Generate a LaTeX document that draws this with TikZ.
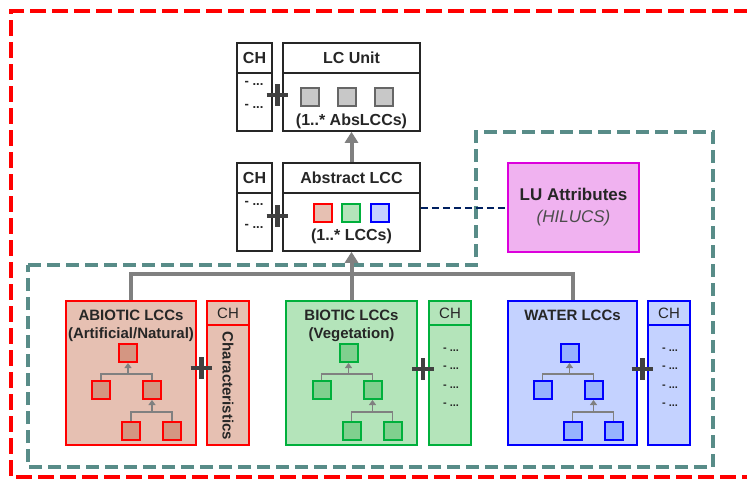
\documentclass[tikz,border=0pt]{standalone}
\usepackage{fontspec}
\setmainfont{Liberation Sans}
\usetikzlibrary{arrows.meta,shapes.misc}
\definecolor{xtext}{RGB}{38,38,38}
\definecolor{xgray}{RGB}{128,128,128}
\definecolor{xplus}{RGB}{64,64,64}
\definecolor{xteal}{RGB}{88,140,136}
\definecolor{xnavy}{RGB}{0,32,96}
\definecolor{abioline}{RGB}{255,0,0}
\definecolor{abiofill}{RGB}{230,192,178}
\definecolor{abiosq}{RGB}{212,150,130}
\definecolor{bioline}{RGB}{0,176,60}
\definecolor{biofill}{RGB}{180,228,186}
\definecolor{biosq}{RGB}{128,208,142}
\definecolor{watline}{RGB}{0,0,255}
\definecolor{watfill}{RGB}{196,210,255}
\definecolor{watsq}{RGB}{150,178,255}
\definecolor{luline}{RGB}{220,0,220}
\definecolor{lufill}{RGB}{240,178,240}
\definecolor{greysq}{RGB}{200,200,200}

\begin{document}
\begin{tikzpicture}[x=1pt,y=-1pt,text=xtext]
\tikzset{hdr/.style={draw=black!85,line width=1.6pt,fill=white,inner sep=0pt,minimum height=30pt,font=\bfseries\fontsize{16}{18}\selectfont}}
\tikzset{bdy/.style={draw=black!85,line width=1.6pt,fill=white,inner sep=0pt,minimum height=58pt}}
\tikzset{lcc/.style={line width=2pt,inner sep=0pt,minimum height=144pt}}
\tikzset{chh/.style={line width=2pt,inner sep=0pt,minimum width=42pt,minimum height=24pt,font=\fontsize{15}{17}\selectfont}}
\tikzset{chb/.style={line width=2pt,inner sep=0pt,minimum width=42pt,minimum height=120pt}}
\tikzset{sq/.style={line width=2pt,inner sep=0pt,minimum size=18pt}}
\tikzset{ttl/.style={inner sep=0pt,font=\bfseries\fontsize{15}{17}\selectfont}}
\tikzset{dots/.style={inner sep=0pt,font=\bfseries\fontsize{13}{15}\selectfont}}
\tikzset{sdots/.style={inner sep=0pt,font=\bfseries\fontsize{11}{13}\selectfont}}
\tikzset{plus/.style={cross out,draw=xplus,line width=4.5pt,minimum size=11pt,inner sep=0pt,rotate=45}}
\tikzset{conn/.style={draw=xgray,line width=4pt}}
\tikzset{tline/.style={draw=xgray,line width=1.6pt}}
\tikzset{tarrow/.style={draw=xgray,line width=1.6pt,-{Triangle[length=5pt,width=7pt]}}}
\useasboundingbox (0,0) rectangle (747,479);
\clip (0,0) rectangle (747,479);
\draw[abioline,line width=4pt,dash pattern=on 16pt off 6pt] (750,11) -- (11,11) -- (11,477) -- (750,477);
\draw[xteal,line width=4pt,dash pattern=on 13pt off 6pt] (28,265) -- (476,265) -- (476,132) -- (713,132) -- (713,467) -- (28,467) -- cycle;
\node[hdr,minimum width=35pt] at (254.5,58) (chU) {CH};
\node[bdy,minimum width=35pt] at (254.5,102) (chUb) {};
\node[dots] at (254,83) (chU1) {- ...};
\node[dots] at (254,106) (chU2) {- ...};
\node[hdr,minimum width=137pt] at (351.5,58) (unit) {LC Unit};
\node[bdy,minimum width=137pt] at (351.5,102) (unitb) {};
\foreach \i/\x in {1/310,2/347,3/384}
  \node[sq,draw=black!60,fill=greysq] at (\x,97) (us\i) {};
\node[hdr,draw=none,fill=none] at (351.5,121) (unitt) {(1..* AbsLCCs)};
\node[plus] at (277.5,95) (plU) {};
\node[hdr,minimum width=35pt] at (254.5,178) (chA) {CH};
\node[bdy,minimum width=35pt] at (254.5,222) (chAb) {};
\node[dots] at (254,203) (chA1) {- ...};
\node[dots] at (254,226) (chA2) {- ...};
\node[hdr,minimum width=137pt] at (351.5,178) (abs) {Abstract LCC};
\node[bdy,minimum width=137pt] at (351.5,222) (absb) {};
\node[sq,draw=abioline,fill=abiofill] at (323,213) (as1) {};
\node[sq,draw=bioline,fill=biofill] at (351,213) (as2) {};
\node[sq,draw=watline,fill=watfill] at (380,213) (as3) {};
\node[hdr,draw=none,fill=none] at (351.5,236) (abst) {(1..* LCCs)};
\node[plus] at (277.5,216) (plA) {};
\draw[conn,-{Triangle[length=11pt,width=13pt]}] (abs.north) -- (unitb.south);
\node[draw=luline,fill=lufill,line width=1.6pt,minimum width=131pt,minimum height=89pt,align=center,font=\bfseries\fontsize{17}{22}\selectfont] at (573.5,207.5) (lu) {LU Attributes\\{\mdseries\itshape\color{black!70}(HILUCS)}};
\draw[xnavy,line width=2pt,dash pattern=on 7pt off 4pt] (lu.west -| absb.east) -- (lu.west);
\node[lcc,draw=abioline,fill=abiofill,minimum width=130pt] at (131,373) (abio) {};
\node[ttl] at (131,315) (abiot) {ABIOTIC LCCs};
\node[ttl] at (131,335) (abios) {(Artificial/Natural)};
\node[chh,draw=abioline,fill=abiofill] at (228,313) (chab) {CH};
\node[chb,draw=abioline,fill=abiofill] at (228,385) (chabb) {};
\node[ttl,rotate=-90] at (228,386) (chabt) {Characteristics};
\node[plus] at (201.5,368) (plab) {};
\node[lcc,draw=bioline,fill=biofill,minimum width=131pt] at (351.5,373) (bio) {};
\node[ttl] at (351.5,315) (biot) {BIOTIC LCCs};
\node[ttl] at (351.5,335) (bios) {(Vegetation)};
\node[chh,draw=bioline,fill=biofill] at (450,313) (chbi) {CH};
\node[chb,draw=bioline,fill=biofill] at (450,385) (chbib) {};
\node[plus] at (423,369) (plbi) {};
\node[lcc,draw=watline,fill=watfill,minimum width=129pt] at (572.5,373) (wat) {};
\node[ttl] at (572.5,315) (watt) {WATER LCCs};
\node[chh,draw=watline,fill=watfill] at (669,313) (chwa) {CH};
\node[chb,draw=watline,fill=watfill] at (669,385) (chwab) {};
\node[plus] at (642.5,369) (plwa) {};
\foreach \y [count=\k] in {350,368,387,405} {
  \node[sdots] at (451,\y) (bid\k) {- ...};
  \node[sdots] at (670,\y) (wad\k) {- ...};
}
\foreach \g/\cx/\cl/\cs in {ab/131/abioline/abiosq,bi/351.5/bioline/biosq,wa/572.5/watline/watsq} {
  \node[sq,draw=\cl,fill=\cs] at (\cx-3,353) (\g1) {};
  \node[sq,draw=\cl,fill=\cs] at (\cx-30,390) (\g2) {};
  \node[sq,draw=\cl,fill=\cs] at (\cx+21,390) (\g3) {};
  \node[sq,draw=\cl,fill=\cs] at (\cx,431) (\g4) {};
  \node[sq,draw=\cl,fill=\cs] at (\cx+41,431) (\g5) {};
  \draw[tline] (\g2.north) -- ++(0,-6) -| (\g3.north);
  \draw[tarrow] (\g1.south |- \g2.north) ++(0,-6) -- (\g1.south);
  \draw[tline] (\g4.north) -- ++(0,-9) -| (\g5.north);
  \draw[tarrow] (\g3.south |- \g4.north) ++(0,-9) -- (\g3.south);
}
\draw[conn] (abio.north) -- ++(0,-26) -| (wat.north);
\draw[conn,-{Triangle[length=11pt,width=13pt]}] (bio.north) -- (absb.south);
\end{tikzpicture}
\end{document}
